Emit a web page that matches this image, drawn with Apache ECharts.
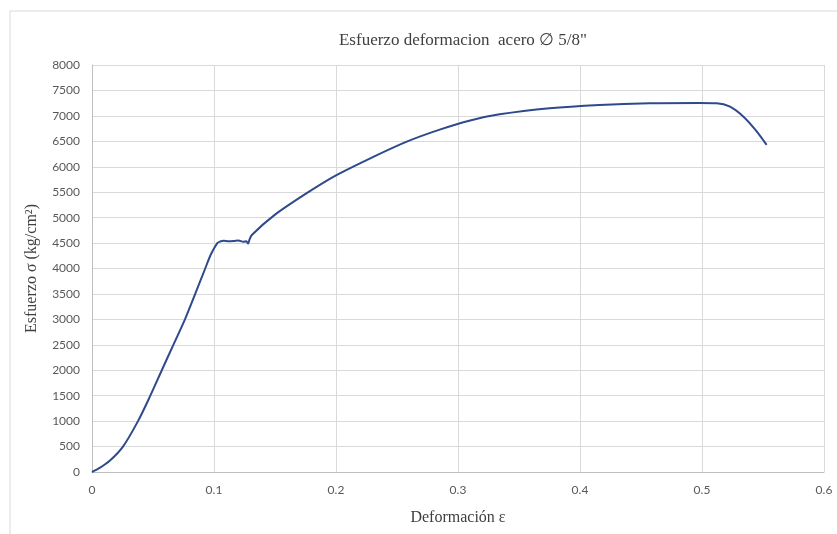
<!DOCTYPE html>
<html>
<head>
<meta charset="utf-8">
<script src="https://cdn.jsdelivr.net/npm/echarts@6/dist/echarts.min.js"></script>
<style>
  html, body { margin: 0; padding: 0; background: #ffffff; }
  #chart { width: 837px; height: 534px; }
</style>
</head>
<body>
<div id="chart"></div>
<script>
// Stress–strain curve of a 5/8" steel bar (tensile test)
const strain = [
  0, 0.0063, 0.0145, 0.0254, 0.0377, 0.0478, 0.0572, 0.0667, 0.0762, 0.0846,
  0.0928, 0.0975, 0.1027, 0.105, 0.108, 0.112, 0.116, 0.120, 0.124, 0.1265,
  0.128, 0.129, 0.131, 0.149, 0.176, 0.200, 0.231, 0.258, 0.285, 0.310,
  0.334, 0.375, 0.416, 0.457, 0.498, 0.512, 0.523, 0.534, 0.544, 0.553
];
const stress = [
  0, 80, 220, 500, 1000, 1500, 2000, 2500, 3000, 3500,
  4000, 4280, 4500, 4530, 4545, 4535, 4540, 4550, 4525, 4535,
  4490, 4560, 4660, 5040, 5480, 5830, 6199, 6494, 6730, 6910,
  7030, 7150, 7215, 7249, 7255, 7250, 7182, 6985, 6720, 6429
];
const xTicks = [0, 0.1, 0.2, 0.3, 0.4, 0.5, 0.6];

const titleText = 'Esfuerzo deformacion  acero \u2205 5/8"';
const xName = 'Deformación ε';
const yName = 'Esfuerzo σ (kg/cm²)';

const chart = echarts.init(document.getElementById('chart'));
const tickFont = { fontFamily: 'Lato, "Open Sans", sans-serif', fontSize: 12, color: '#595959' };
const serifFont = 'Liberation Serif, "DejaVu Serif", serif';

chart.setOption({
  backgroundColor: '#ffffff',
  animation: false,
  graphic: [{
    type: 'rect',
    shape: { x: 10, y: 11, width: 840, height: 540 },
    style: { fill: 'none', stroke: '#d9d9d9', lineWidth: 1 },
    silent: true
  }],
  title: {
    text: titleText,
    left: 458, top: 27, textAlign: 'center',
    textStyle: { fontFamily: serifFont, fontSize: 17, fontWeight: 'normal', color: '#404040' }
  },
  grid: { left: 92, right: 13, top: 65, bottom: 62 },
  xAxis: {
    type: 'value', min: 0, max: 0.6, interval: 0.1,
    name: xName, nameLocation: 'middle', nameGap: 38,
    nameTextStyle: { fontFamily: serifFont, fontSize: 16, color: '#404040' },
    axisLine: { show: true, lineStyle: { color: '#bfbfbf', width: 1 } },
    axisTick: { show: false },
    axisLabel: Object.assign({
      margin: 12,
      formatter: v => {
        const r = +v.toFixed(1);
        return xTicks.includes(r) ? String(r) : '';
      }
    }, tickFont),
    splitLine: { show: true, lineStyle: { color: '#d9d9d9', width: 1 } }
  },
  yAxis: {
    type: 'value', min: 0, max: 8000, interval: 500,
    name: yName, nameLocation: 'middle', nameGap: 52,
    nameTextStyle: { fontFamily: serifFont, fontSize: 16, color: '#404040' },
    axisLine: { show: true, lineStyle: { color: '#bfbfbf', width: 1 } },
    axisTick: { show: false },
    axisLabel: Object.assign({ margin: 12, formatter: v => String(v) }, tickFont),
    splitLine: { show: true, lineStyle: { color: '#d9d9d9', width: 1 } }
  },
  series: [{
    type: 'line',
    data: strain.map((x, i) => [x, stress[i]]),
    showSymbol: false,
    smooth: 0.3,
    lineStyle: { color: '#2f4a8c', width: 2 },
    itemStyle: { color: '#2f4a8c' }
  }]
});
</script>
</body>
</html>
